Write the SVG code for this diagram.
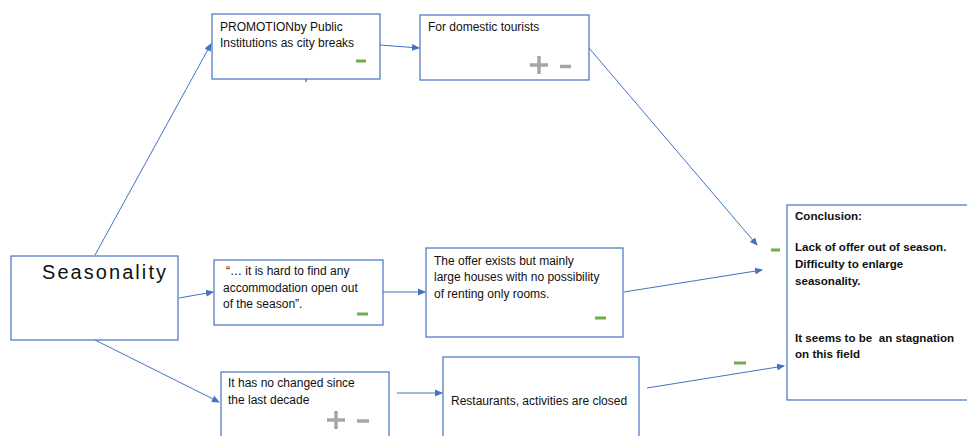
<svg xmlns="http://www.w3.org/2000/svg" width="967" height="436" viewBox="0 0 967 436">
<style>
.box{fill:#fff;stroke:#4472C4;stroke-width:1.2}
.t{font-family:"Liberation Sans",Arial,sans-serif;font-size:12px;fill:#111}
.b{font-family:"Liberation Sans",Arial,sans-serif;font-size:11.6px;font-weight:bold;fill:#111;white-space:pre}
.big{font-family:"Liberation Sans",Arial,sans-serif;font-size:20px;fill:#111}
.c{stroke:#4472C4;stroke-width:1;fill:none;marker-end:url(#ah)}
.gm{stroke:#70AD47;stroke-width:3}
.gr{stroke:#A6A6A6;stroke-width:3.5}
</style>
<defs>
<marker id="ah" markerWidth="8" markerHeight="8" refX="7" refY="4" orient="auto" markerUnits="userSpaceOnUse">
<path d="M0,0.5 L8,4 L0,7.5 Z" fill="#4472C4"/>
</marker>
</defs>
<rect width="967" height="436" fill="#fff"/>
<g id="connectors">
<line class="c" x1="95" y1="255" x2="211" y2="44"/>
<line class="c" x1="380" y1="45" x2="419" y2="48"/>
<line class="c" x1="179" y1="298" x2="213" y2="292"/>
<line class="c" x1="383" y1="292" x2="425" y2="292"/>
<line class="c" x1="95" y1="340" x2="219" y2="402"/>
<line class="c" x1="397" y1="393" x2="442" y2="393"/>
<line class="c" x1="589" y1="48" x2="757" y2="245"/>
<line class="c" x1="624" y1="292" x2="762" y2="270"/>
<line class="c" x1="647" y1="388" x2="784" y2="366"/>
<line x1="306" y1="79" x2="306" y2="82" stroke="#333" stroke-width="1"/>
</g>
<g id="seasonality">
<rect class="box" x="11" y="256" width="167" height="84"/>
<text class="big" x="42" y="279" textLength="124" lengthAdjust="spacing">Seasonality</text>
</g>
<g id="promotion">
<rect class="box" x="212" y="14" width="168" height="65"/>
<text class="t" x="220" y="31">PROMOTIONby Public</text>
<text class="t" x="220" y="47">Institutions as city breaks</text>
<line class="gm" x1="356" y1="61" x2="366" y2="61"/>
</g>
<g id="domestic">
<rect class="box" x="420" y="15" width="169" height="65"/>
<text class="t" x="428" y="31">For domestic tourists</text>
<path class="gr" d="M530,65 H548 M539,56 V74"/>
<line class="gr" x1="560" y1="66.5" x2="571" y2="66.5"/>
</g>
<g id="quote">
<rect class="box" x="214" y="260" width="169" height="65"/>
<text class="t" x="226" y="275">“… it is hard to find any</text>
<text class="t" x="223" y="292">accommodation open out</text>
<text class="t" x="223" y="308">of the season”.</text>
<line class="gm" x1="357" y1="314" x2="368" y2="314"/>
</g>
<g id="offer">
<rect class="box" x="426" y="248" width="197" height="89"/>
<text class="t" x="434" y="265">The offer exists but mainly</text>
<text class="t" x="434" y="281">large houses with no possibility</text>
<text class="t" x="434" y="298">of renting only rooms.</text>
<line class="gm" x1="595" y1="318" x2="606" y2="318"/>
</g>
<g id="nochange">
<rect class="box" x="221" y="372" width="168" height="80"/>
<text class="t" x="228" y="387">It has no changed since</text>
<text class="t" x="228" y="404">the last decade</text>
<path class="gr" d="M327,420 H345 M336,411 V429"/>
<line class="gr" x1="357" y1="421" x2="369" y2="421"/>
</g>
<g id="restaurants">
<rect class="box" x="443" y="357" width="196" height="95"/>
<text class="t" x="451" y="405">Restaurants, activities are closed</text>
</g>
<g id="conclusion">
<rect class="box" x="787" y="205" width="200" height="195"/>
<text class="b" x="795" y="220">Conclusion:</text>
<text class="b" x="795" y="251">Lack of offer out of season.</text>
<text class="b" x="795" y="268">Difficulty to enlarge</text>
<text class="b" x="795" y="285">seasonality.</text>
<text class="b" x="795" y="342" xml:space="preserve">It seems to be  an stagnation</text>
<text class="b" x="795" y="358">on this field</text>
<line class="gm" x1="771" y1="250" x2="780" y2="250"/>
<line class="gm" x1="734" y1="363" x2="746" y2="363"/>
</g>
</svg>
